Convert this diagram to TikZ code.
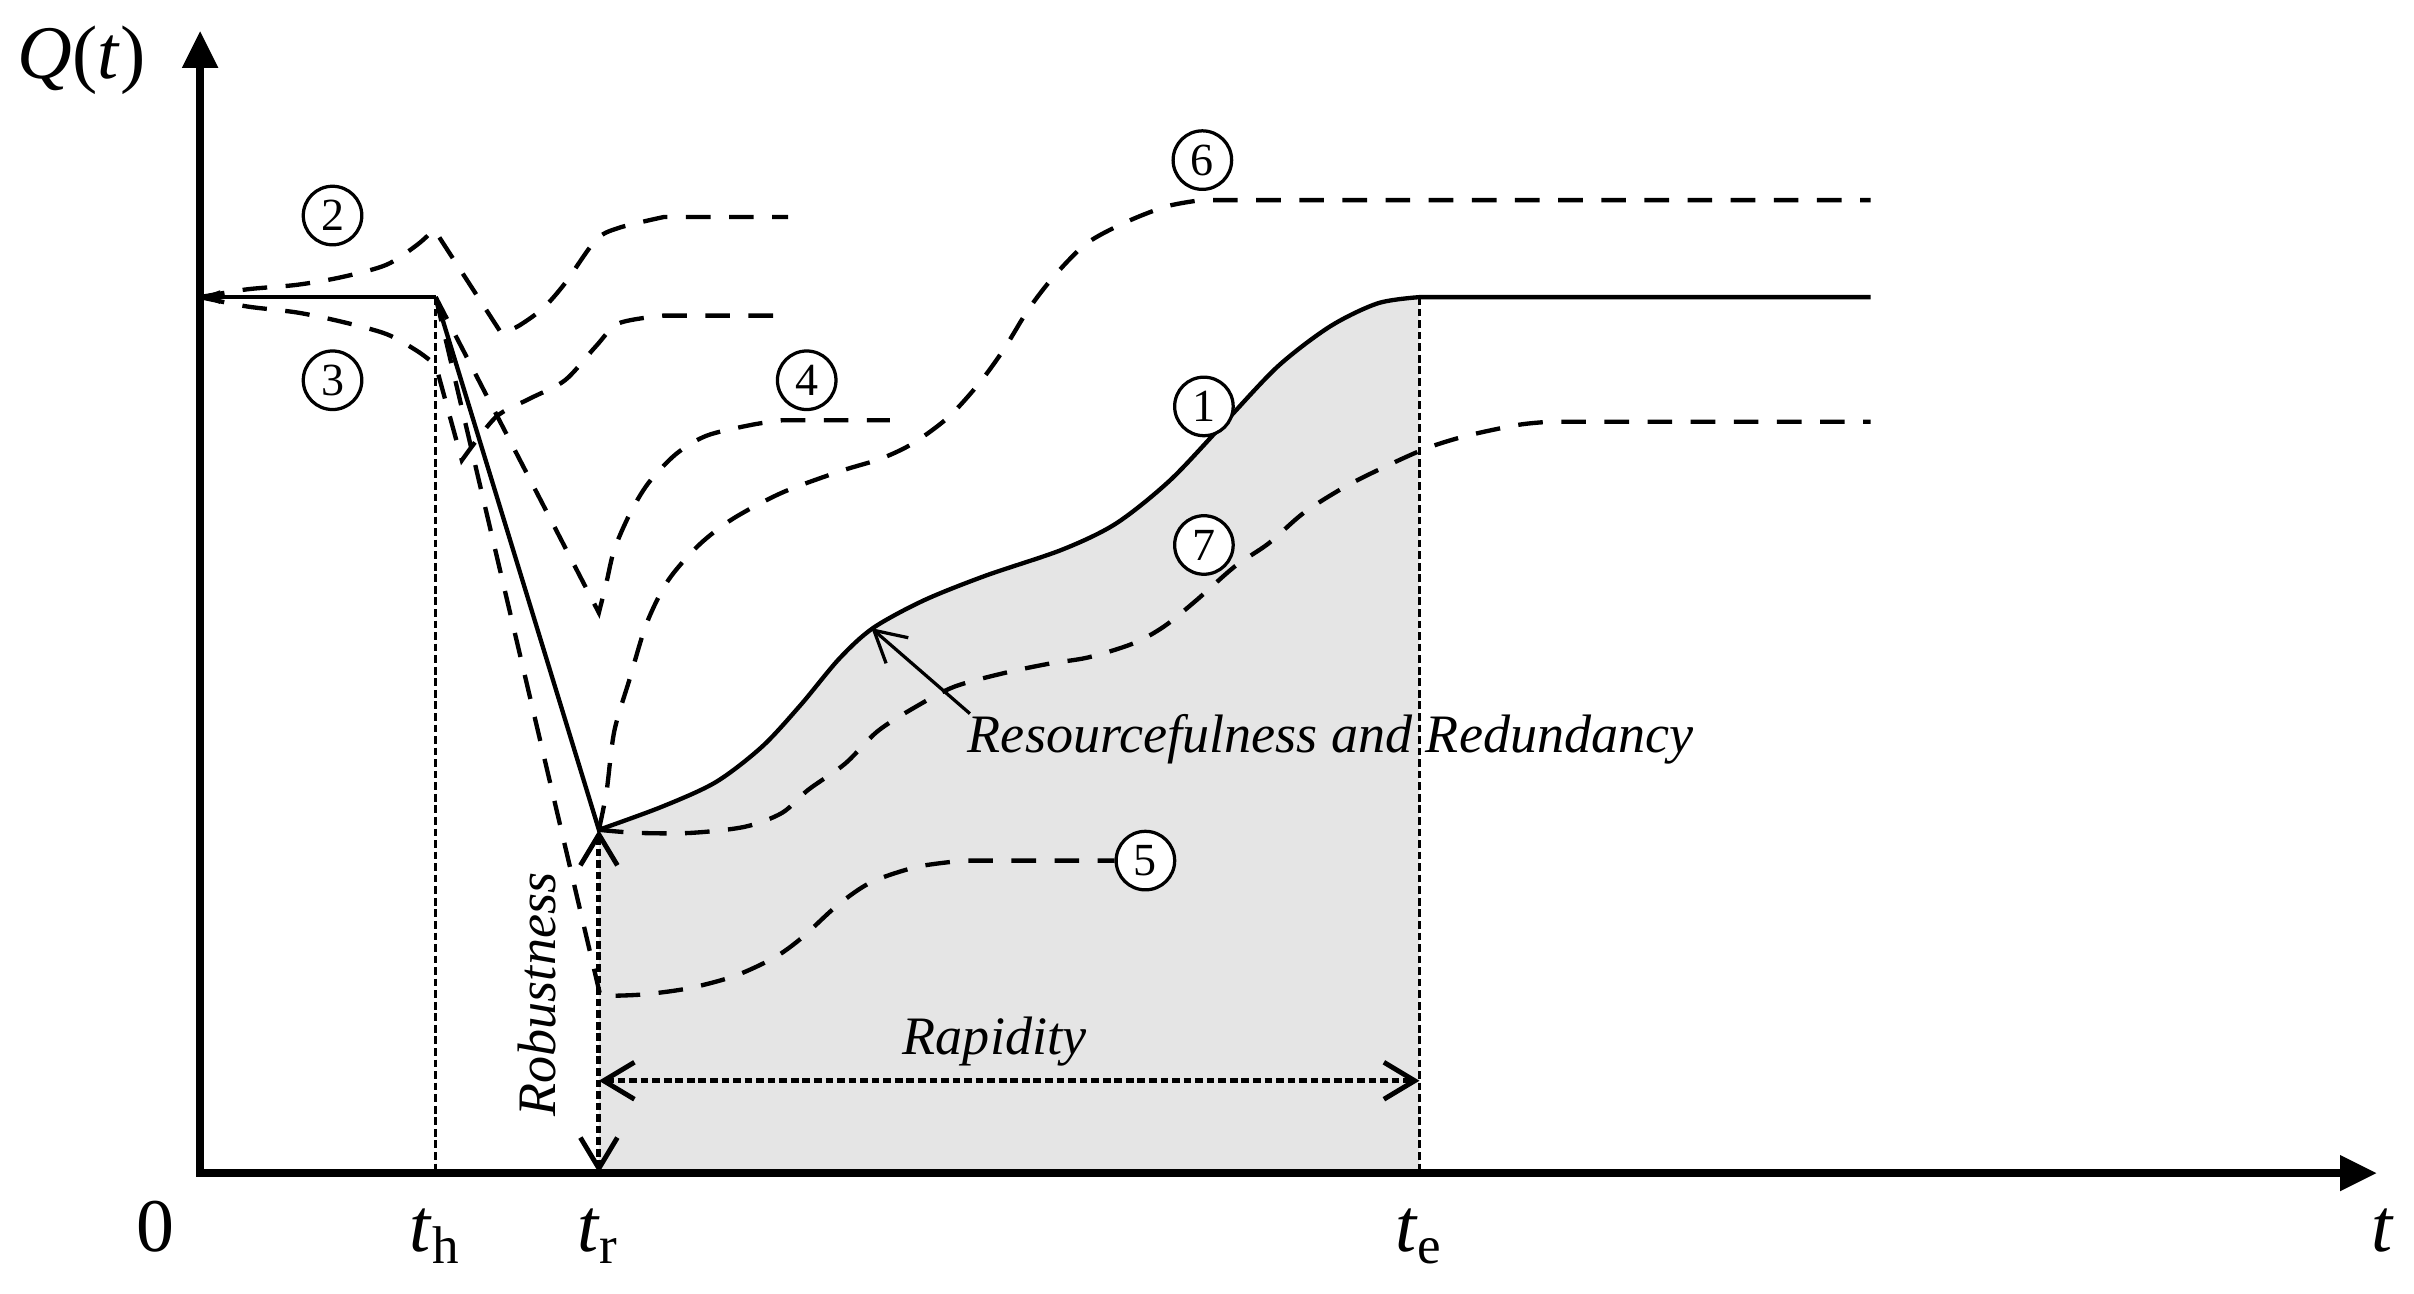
\documentclass[tikz,border=0pt]{standalone}
\usepackage{fontspec}
\setmainfont{Liberation Serif}
\usetikzlibrary{arrows.meta}
\definecolor{shadegrey}{gray}{0.9}
\tikzset{
  axisline/.style={line width=1.5pt,line cap=rect,-{Triangle[length=0.24cm,width=0.22cm]}},
  mainline/.style={line width=0.8pt},
  scenario/.style={line width=0.8pt,dash pattern=on 0.16cm off 0.12cm},
  guideline/.style={line width=0.45pt,dash pattern=on 0.05cm off 0.025cm},
  spanarrow/.style={line width=0.9pt,dash pattern=on 0.05cm off 0.025cm,
    {Straight Barb[length=0.2cm,width=0.24cm]}-{Straight Barb[length=0.2cm,width=0.24cm]}},
  pointer/.style={line width=0.6pt,-{Straight Barb[length=0.2cm,width=0.22cm]}},
  casemark/.style={circle,draw,line width=0.6pt,inner sep=0pt,minimum size=0.38cm,
    fill=white,font=\fontsize{8.5}{9}\selectfont},
  axislabel/.style={anchor=base,inner sep=0pt,font=\fontsize{14}{16}\selectfont},
  notelabel/.style={inner sep=0pt,font=\fontsize{10}{12}\selectfont\itshape}
}
\begin{document}
\begin{tikzpicture}[x=0.01cm,y=-0.01cm]
\useasboundingbox (0,0) rectangle (1568,840);
% key points
\coordinate (O) at (130,762);
\coordinate (Q0) at (130,193);
\coordinate (Qh) at (283,193);
\coordinate (Qr) at (389,539);
\coordinate (Qm) at (566,408);
\coordinate (Qe) at (922,193);
\coordinate (Th) at (283,762);
\coordinate (Tr) at (389,762);
\coordinate (Te) at (922,762);
\coordinate (Rl) at (389,702);
\coordinate (Rr) at (922,702);
% recovery area
\fill[shadegrey] plot[smooth] coordinates {(389,539) (430,524) (465,508) (495,485) (520,458)
  (545,428) (567,408) (600,390) (640,374) (690,357) (725,340) (760,312) (795,275) (830,238)
  (864,212) (895,197) (922,193)} -- (Te) -- (Tr) -- cycle;
% guides
\draw[guideline] (Qh) -- (Th);
\draw[guideline] (Qe) -- (Te);
% axes
\draw[axisline] (O) -- (130,20);
\draw[axisline] (O) -- (1544,762);
% scenario 1
\draw[mainline,-{Triangle[length=0.13cm,width=0.08cm]}] (Qh) -- (Q0);
\draw[mainline] (Qh) -- (Qr) -- plot[smooth] coordinates {(389,539) (430,524) (465,508)
  (495,485) (520,458) (545,428) (567,408) (600,390) (640,374) (690,357) (725,340) (760,312)
  (795,275) (830,238) (864,212) (895,197) (922,193)} -- (1215,193);
% scenario 2
\draw[scenario] plot[smooth] coordinates {(130,193) (160,188) (193,185) (222,180) (251,172)
  (271,159) (282,149)} -- (326,217) -- plot[smooth] coordinates {(326,217) (338,211) (353,200)
  (367,184) (387,156) (402,148) (431,141)} -- (512,141);
% scenario 3
\draw[scenario] plot[smooth] coordinates {(130,193) (160,199) (193,203) (222,209) (251,217)
  (271,228) (283,237)} -- (300,299) -- plot[smooth] coordinates {(300,299) (322,271) (344,259)
  (367,247) (387,225) (402,210) (431,205)} -- (512,205);
% scenario 4
\draw[scenario] (Qh) -- (389,398) -- plot[smooth] coordinates {(389,398) (394,378) (399,357)
  (409,334) (421,314) (439,295) (459,283) (488,276) (508,273)} -- (578,273);
% scenario 5
\node[casemark] (c5) at (744,559) {5};
\draw[scenario] (Qh) -- (390,647) -- plot[smooth] coordinates {(390,647) (417,646) (447,642)
  (477,634) (503,622) (521,609) (544,588) (566,573) (596,563) (626,559)} -- (c5.west);
% scenario 6
\draw[scenario] plot[smooth] coordinates {(389,539) (394,514) (399,475) (409,441) (420,405)
  (434,377) (454,354) (476,337) (508,320) (546,306) (572,298) (593,288) (616,271) (636,249)
  (652,227) (668,201) (685,179) (706,158) (732,144) (758,134) (780,130)} -- (1215,130);
% scenario 7
\draw[scenario] plot[smooth] coordinates {(389,539) (414,541) (449,541) (484,537) (508,528)
  (525,513) (549,496) (570,475) (595,459) (620,446) (653,437) (682,431) (707,427) (736,418)
  (756,407) (777,390) (802,368) (824,353) (847,333) (874,316) (900,303) (927,291) (953,283)
  (986,276) (1006,274)} -- (1215,274);
% case marks
\node[casemark] (c1) at (782,264) {1};
\node[casemark] (c2) at (216,140) {2};
\node[casemark] (c3) at (216,247) {3};
\node[casemark] (c4) at (524,247) {4};
\node[casemark] (c6) at (781,104) {6};
\node[casemark] (c7) at (782,354) {7};
% measures
\draw[spanarrow] (Qr) -- (Tr);
\draw[spanarrow] (Rl) -- (Rr);
\node[notelabel,anchor=base] (rapid) at (646,685) {Rapidity};
\node[notelabel,anchor=base,rotate=90] (robust) at (361,646) {Robustness};
\node[notelabel,anchor=base west] (resnote) at (628,489) {Resourcefulness and Redundancy};
\draw[pointer] ([xshift=0.02cm]resnote.north west) -- (Qm);
% axis labels
\node[axislabel] (qlabel) at (53,51) {\textit{Q}(\textit{t})};
\node[axislabel] (zero) at (101,813) {0};
\node[axislabel] (thlabel) at (283,813) {\textit{t}\textsubscript{h}};
\node[axislabel] (trlabel) at (389,813) {\textit{t}\textsubscript{r}};
\node[axislabel] (telabel) at (922,813) {\textit{t}\textsubscript{e}};
\node[axislabel] (tlabel) at (1548,813) {\textit{t}};
\end{tikzpicture}
\end{document}
